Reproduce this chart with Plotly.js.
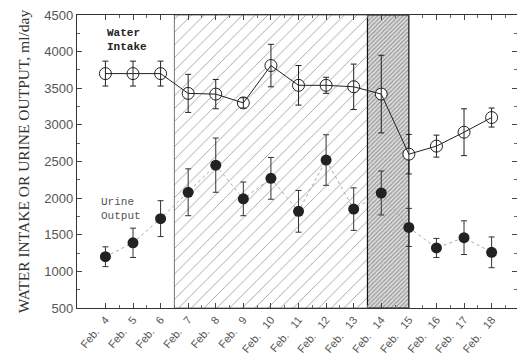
<!DOCTYPE html>
<html><head><meta charset="utf-8">
<script src="https://cdn.plot.ly/plotly-3.0.1.min.js"></script>
<style>html,body{margin:0;padding:0;background:#fff}#c{width:517px;height:359px}</style>
</head><body><div id="c"></div>
<script>
const days = [4,5,6,7,8,9,10,11,12,13,14,15,16,17,18];
const tickLabels = days.map(d => "Feb.\u00A0\u00A0\u00A0" + d);
const waterIntake = [3700,3700,3700,3430,3420,3300,3810,3540,3540,3520,3420,2600,2710,2900,3100];
const waterErr    = [170,170,170,260,200,70,290,270,110,310,530,270,150,320,130];
const urineOutput = [1200,1390,1720,2080,2450,1990,2270,1820,2520,1850,2070,1600,1320,1460,1260];
const urineErr    = [135,200,245,320,370,230,285,285,345,290,300,260,130,230,210];
const periodStart = [6.5,13.5];
const periodEnd   = [13.5,15];

const shade = {
  type:'bar', x: periodStart.map((s,i)=>(s+periodEnd[i])/2),
  width: periodStart.map((s,i)=>periodEnd[i]-s),
  y: periodStart.map(()=>4000), base: periodStart.map(()=>500),
  marker:{color:['#ffffff','#dcdcdc'],
    line:{color:['#555','#111'],width:[0.8,1.2]},
    pattern:{shape:'/', size:[9,3], solidity:[0.1,0.35], fgcolor:['#777','#555'], fillmode:'overlay'}},
  hoverinfo:'skip', showlegend:false
};
const water = {
  type:'scatter', mode:'lines+markers', x:days, y:waterIntake,
  error_y:{type:'data', array:waterErr, visible:true, color:'#222', thickness:1, width:3},
  line:{color:'#222', width:1},
  marker:{symbol:'circle-open', size:12, color:'#222', line:{width:1, color:'#222'}},
  showlegend:false
};
const waterFill = {type:'scatter', mode:'markers', x:days, y:waterIntake, marker:{size:11,color:'#fff'}, showlegend:false, hoverinfo:'skip'};
const urine = {
  type:'scatter', mode:'lines+markers', x:days, y:urineOutput,
  error_y:{type:'data', array:urineErr, visible:true, color:'#333', thickness:1, width:3},
  line:{color:'#aaa', width:1, dash:'dot'},
  marker:{symbol:'circle', size:11, color:'#222'},
  showlegend:false
};
const layout = {
  width:517, height:359,
  margin:{l:77, r:0, t:15, b:51},
  paper_bgcolor:'#fff', plot_bgcolor:'rgba(0,0,0,0)',
  barmode:'overlay', bargap:0,
  font:{family:'Liberation Sans, Arial, sans-serif', color:'#555'},
  xaxis:{range:[2.97,18.92], tickvals:days, ticktext:tickLabels, tickangle:-50,
    ticks:'inside', ticklen:5, tickcolor:'#444', showline:true, linecolor:'#333', linewidth:1.2, mirror:'ticks',
    showgrid:false, zeroline:false, tickfont:{size:11, color:'#555'},
    minor:{tickvals:days.map(d=>d+0.5), ticks:'inside', ticklen:3, tickcolor:'#666'}},
  yaxis:{range:[500,4500], dtick:500, tick0:500, ticks:'inside', ticklen:5, tickcolor:'#444',
    showline:true, linecolor:'#333', linewidth:1.2, mirror:'ticks', showgrid:false, zeroline:false,
    tickfont:{size:13, color:'#555'},
    minor:{dtick:250, ticks:'inside', ticklen:3, tickcolor:'#666'},
    title:{text:'WATER INTAKE OR URINE OUTPUT, ml/day', font:{family:'Liberation Serif, Times New Roman, serif', size:15.5, color:'#333'}, standoff:10}},
  annotations:[
    {xref:'paper', yref:'paper', x:0.064, y:0.965, xanchor:'left', yanchor:'top', showarrow:false, align:'left',
     text:'<b>Water<br>Intake</b>', font:{family:'Liberation Mono, DejaVu Sans Mono, monospace', size:11, color:'#222'}},
    {xref:'paper', yref:'paper', x:0.05, y:0.39, xanchor:'left', yanchor:'top', showarrow:false, align:'left',
     text:'Urine<br>Output', font:{family:'Liberation Mono, DejaVu Sans Mono, monospace', size:11, color:'#555'}}
  ]
};
Plotly.newPlot('c',[shade, urine, waterFill, water], layout, {displayModeBar:false, staticPlot:true});
</script></body></html>
